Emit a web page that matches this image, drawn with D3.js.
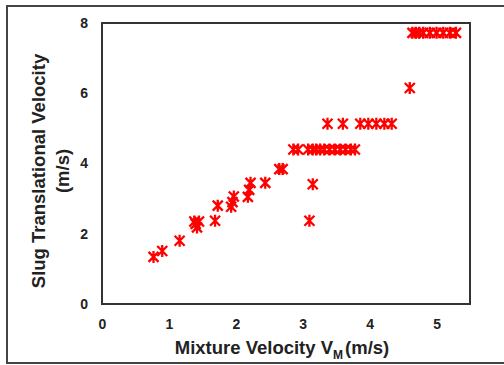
<!DOCTYPE html>
<html>
<head>
<meta charset="utf-8">
<script src="https://cdn.jsdelivr.net/npm/d3@7"></script>
<style>
  body { margin: 0; background: #fff; }
  text { font-family: "Liberation Sans", Arial, sans-serif; font-weight: bold; fill: #222; }
</style>
</head>
<body>
<script>
// mixture velocity (m/s)
var mixVel = [0.77, 0.90, 1.16, 1.38, 1.45, 1.42, 1.40, 1.69, 1.73, 1.93, 1.97, 1.95,
              2.18, 2.22, 2.20, 2.44, 2.65, 2.70,
              2.86, 2.93, 3.08, 3.15, 3.20, 3.26, 3.32, 3.40, 3.48, 3.56, 3.64, 3.72, 3.78,
              3.37, 3.60, 3.86, 3.98, 4.10, 4.22, 4.33,
              4.60, 3.10, 3.15,
              4.64, 4.69, 4.74, 4.80, 4.90, 5.00, 5.10, 5.20, 5.29]
// slug translational velocity (m/s)
var slugVel = [1.34, 1.51, 1.80, 2.35, 2.35, 2.18, 2.28, 2.37, 2.80, 2.77, 3.06, 2.90,
               3.05, 3.45, 3.25, 3.45, 3.84, 3.84,
               4.40, 4.40, 4.40, 4.40, 4.40, 4.40, 4.40, 4.40, 4.40, 4.40, 4.40, 4.40, 4.40,
               5.13, 5.13, 5.13, 5.13, 5.13, 5.13, 5.13,
               6.15, 2.37, 3.41,
               7.72, 7.72, 7.72, 7.72, 7.72, 7.72, 7.72, 7.72, 7.72]
var xTicks = [0, 1, 2, 3, 4, 5]
var yTicks = [0, 2, 4, 6, 8]

var points = mixVel.map((v, i) => ({x: v, y: slugVel[i]}))

var width = 504, height = 365
var margin = {left: 102, right: 34, top: 23, bottom: 61}

var svg = d3.select("body").append("svg")
            .attr("width", width)
            .attr("height", height)

// outer frame
svg.append("rect")
   .attr("x", 7).attr("y", 6)
   .attr("width", 510).attr("height", 357)
   .attr("fill", "none")
   .attr("stroke", "#444")
   .attr("stroke-width", 2)

var x = d3.scaleLinear().domain([0, 5.5]).range([margin.left, width - margin.right])
var y = d3.scaleLinear().domain([0, 8]).range([height - margin.bottom, margin.top])

var xAxis = svg.append("g")
               .attr("transform", "translate(0," + (height - margin.bottom) + ")")
               .call(d3.axisBottom(x).tickValues(xTicks).tickFormat(d3.format("d"))
                       .tickSize(0).tickPadding(15))
xAxis.select(".domain").remove()
xAxis.selectAll("text").style("font-size", "14px")

var yAxis = svg.append("g")
               .attr("transform", "translate(" + margin.left + ",0)")
               .call(d3.axisLeft(y).tickValues(yTicks).tickSize(0).tickPadding(14))
yAxis.select(".domain").remove()
yAxis.selectAll("text").style("font-size", "14px")

// plot frame
svg.append("rect")
   .attr("x", x(0)).attr("y", y(8))
   .attr("width", x(5.5) - x(0))
   .attr("height", y(0) - y(8))
   .attr("fill", "none")
   .attr("stroke", "#333")
   .attr("stroke-width", 2)

var s = 5
var star = "M" + (-s) + "," + (-s) + "L" + s + "," + s +
           "M" + (-s) + "," + s + "L" + s + "," + (-s) +
           "M0," + (-s - 1) + "L0," + (s + 1)

svg.selectAll(".pt")
   .data(points)
   .enter()
   .append("path")
   .attr("class", "pt")
   .attr("d", star)
   .attr("transform", d => "translate(" + x(d.x) + "," + y(d.y) + ")")
   .attr("fill", "none")
   .attr("stroke", "#ff0000")
   .attr("stroke-width", 2.3)

// axis titles
var xt = svg.append("text")
            .attr("x", 282).attr("y", 354)
            .attr("text-anchor", "middle")
            .style("font-size", "18.5px")
xt.append("tspan").text("Mixture Velocity V")
xt.append("tspan").text("M").attr("dy", 5).style("font-size", "12px")
xt.append("tspan").text("(m/s)").attr("dy", -5).attr("dx", 2)

var yt = svg.append("text")
            .attr("transform", "translate(45,171) rotate(-90)")
            .attr("text-anchor", "middle")
            .style("font-size", "18.5px")
yt.append("tspan").attr("x", 0).attr("y", 0).text("Slug Translational Velocity")
yt.append("tspan").attr("x", 0).attr("y", 24).text("(m/s)")
</script>
</body>
</html>
